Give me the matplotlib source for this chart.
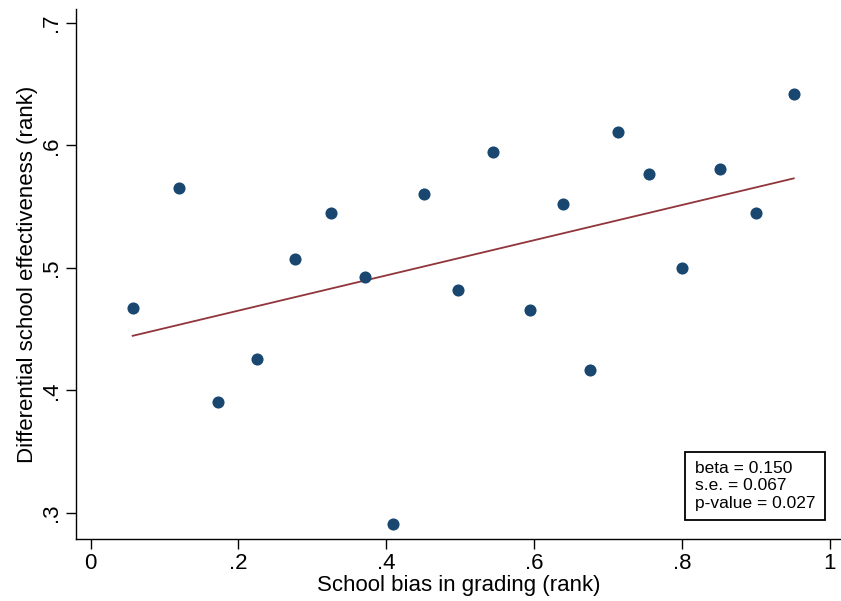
import numpy as np
import matplotlib.pyplot as plt

plt.rcParams["font.family"] = ["Liberation Sans", "DejaVu Sans"]

# school-level ranks
bias_rank = [0.057, 0.120, 0.173, 0.225, 0.276, 0.325, 0.371, 0.409, 0.451, 0.497,
             0.544, 0.595, 0.639, 0.675, 0.714, 0.755, 0.800, 0.851, 0.900, 0.951]
effect_rank = [0.467, 0.565, 0.391, 0.426, 0.507, 0.545, 0.493, 0.291, 0.560, 0.482,
               0.595, 0.466, 0.552, 0.417, 0.611, 0.577, 0.500, 0.581, 0.545, 0.642]

stats_text = "beta = 0.150\ns.e. = 0.067\np-value = 0.027"

x = np.array(bias_rank)
y = np.array(effect_rank)
slope, intercept = np.polyfit(x, y, 1)
xs = np.array([x.min(), x.max()])

fig = plt.figure(figsize=(8.41, 6.01), dpi=100)
ax = fig.add_axes([0.0904, 0.1032, 0.9096, 0.8819])

ax.scatter(x, y, s=76, color="#1a476f", zorder=3, linewidths=0)
ax.plot(xs, intercept + slope * xs, color="#90353b", lw=1.3, zorder=2)

ax.set_xlim(-0.0196, 1.0149)
ax.set_ylim(0.2788, 0.7114)
ax.set_xticks([0, 0.2, 0.4, 0.6, 0.8, 1])
ax.set_xticklabels(["0", ".2", ".4", ".6", ".8", "1"])
ax.set_yticks([0.3, 0.4, 0.5, 0.6, 0.7])
ax.set_yticklabels([".3", ".4", ".5", ".6", ".7"], rotation=90, va="center")

for side in ["top", "right"]:
    ax.spines[side].set_visible(False)
for side in ["left", "bottom"]:
    ax.spines[side].set_linewidth(1.0)
ax.tick_params(axis="both", direction="out", length=7, width=1.0, labelsize=16, pad=3)

ax.set_xlabel("School bias in grading (rank)", fontsize=16, labelpad=1)
ax.set_ylabel("Differential school effectiveness (rank)", fontsize=16, labelpad=2)

ax.text(0.809, 0.100, stats_text, transform=ax.transAxes, fontsize=12.5,
        va="center", ha="left", linespacing=1.2,
        bbox=dict(boxstyle="square,pad=0.55", facecolor="white",
                  edgecolor="black", linewidth=1.3))

fig.savefig("out.png", dpi=100)
